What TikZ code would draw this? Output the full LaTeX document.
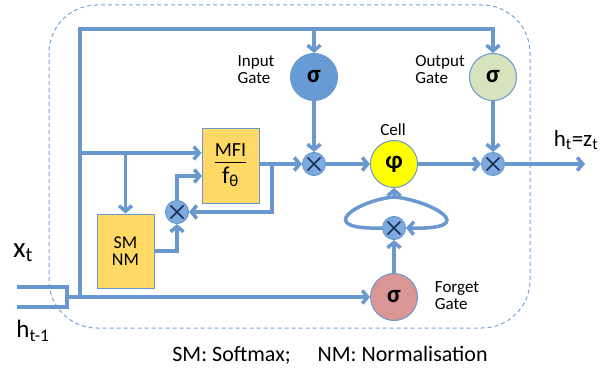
\documentclass[tikz,border=0pt]{standalone}
\usepackage{fontspec}
\setmainfont{Carlito}
\usetikzlibrary{arrows.meta, calc, positioning}
\definecolor{wire}{RGB}{104,152,206}
\definecolor{frameblue}{RGB}{120,165,215}
\definecolor{inblue}{RGB}{104,155,214}
\definecolor{outgreen}{RGB}{214,227,188}
\definecolor{forgetred}{RGB}{217,150,148}
\definecolor{cellyellow}{RGB}{255,255,0}
\definecolor{boxyellow}{RGB}{255,217,102}
\definecolor{multblue}{RGB}{125,170,224}
\definecolor{crossnavy}{RGB}{28,45,85}
\newcommand{\fs}[1]{\fontsize{#1}{#1}\selectfont}

\begin{document}
\begin{tikzpicture}[x=1pt, y=-1pt, >={Straight Barb[length=5.5pt,width=13pt]}, font=\fs{17},
  flow/.style={draw=wire, line width=3.5pt},
  gate/.style={circle, draw=wire, line width=1pt, minimum size=47pt, inner sep=0pt, font=\fs{25}\bfseries},
  mult/.style={circle, draw=wire, line width=1pt, fill=multblue, minimum size=23pt, inner sep=0pt,
    path picture={\draw[crossnavy, line width=1.6pt]
      ([shift={(-6.5,-6.5)}]path picture bounding box.center) -- ([shift={(6.5,6.5)}]path picture bounding box.center)
      ([shift={(-6.5,6.5)}]path picture bounding box.center) -- ([shift={(6.5,-6.5)}]path picture bounding box.center);}},
  block/.style={draw=wire, line width=1pt, fill=boxyellow, minimum width=57pt, minimum height=74pt, align=center},
  lbl/.style={align=left, inner sep=0pt}]
\useasboundingbox (0,0) rectangle (604,374);

% cell frame
\draw[frameblue, line width=1pt, dash pattern=on 4pt off 3pt, rounded corners=48pt] (49,5) rectangle (530,328);

% gates, cell and multipliers
\node[gate, fill=inblue] (ig) at (314,77) {σ};
\node[gate, fill=outgreen] (og) at (493,77) {σ};
\node[gate, fill=cellyellow] (cell) at (394,164) {φ};
\node[gate, fill=forgetred] (fg) at (394,297) {σ};
\node[mult] (imul) at (314,164) {};
\node[mult] (omul) at (493,164) {};
\node[mult] (fmul) at (394,228) {};
\node[mult] (lmul) at (177,212) {};
\node[block] (mfi) at (230.5,166) {\fs{20}\begin{tabular}{@{}c@{}}MFI\\[-1pt]\hline\rule{0pt}{21pt}\fs{24}f\textsubscript{θ}\end{tabular}};
\node[block] (smnm) at (125.5,251) {\fs{18}SM\\\fs{18}NM};

% labels
\node[lbl] (iglbl) at (256,70) {Input\\Gate};
\node[lbl] (oglbl) at (440,70) {Output\\Gate};
\node[lbl] (fglbl) at (457,296) {Forget\\Gate};
\node (celllbl) at (393,130) {Cell};
\node (xt) at (23,253) {\fs{29}x\textsubscript{t}};
\node (ht) at (33,331) {\fs{25}h\textsubscript{t-1}};
\node (hz) at (576,140) {\fs{23}h\textsubscript{t}=z\textsubscript{t}};
\node (legend) at (330,355) {\fs{22}SM: Softmax;\quad\ NM: Normalisation};

% inputs
\coordinate (xin) at (17,287);
\coordinate (hin) at (17,307);
\coordinate (xj) at (67,287);
\coordinate (hj) at (67,307);
\coordinate (jin) at (67,297);
\coordinate (busbot) at (80,297);
\coordinate (bustop) at (80,29);
\coordinate (tap) at (80,153);
\draw[flow] (xin) -- (xj) -- (hj) -- (hin);
\draw[flow,->] (jin) -- (fg);
\draw[flow,->] (busbot) -- (bustop) -| (og);
\draw[flow,->] (ig |- bustop) -- (ig);

% attention branch
\draw[flow,->] (tap) -- (tap -| mfi.west);
\draw[flow,->] (tap -| smnm) -- (smnm);
\coordinate (smout) at (154,251);
\coordinate (mfiin) at (202,176);
\coordinate (mfiout) at (259,164);
\coordinate (fbk) at (272,164);
\draw[flow,->] (smout) -| (lmul);
\draw[flow,->] (lmul.north) |- (mfiin);
\draw[flow,->] (mfiout) -- (imul);
\draw[flow,->] (fbk) |- (lmul);

% main path
\coordinate (hout) at (585,164);
\draw[flow,->] (ig) -- (imul);
\draw[flow,->] (imul) -- (cell);
\draw[flow,->] (cell) -- (omul);
\draw[flow,->] (og) -- (omul);
\draw[flow,->] (omul) -- (hout);

% forget loop
\coordinate (stem) at (394,197);
\draw[flow,->] (fg) -- (fmul);
\draw[flow,->] (fmul.west) .. controls (312,230) and (358,200) .. (stem) -- (cell.south);
\draw[flow,->] (stem) .. controls (430,200) and (484,230) .. (fmul.east);
\end{tikzpicture}
\end{document}
